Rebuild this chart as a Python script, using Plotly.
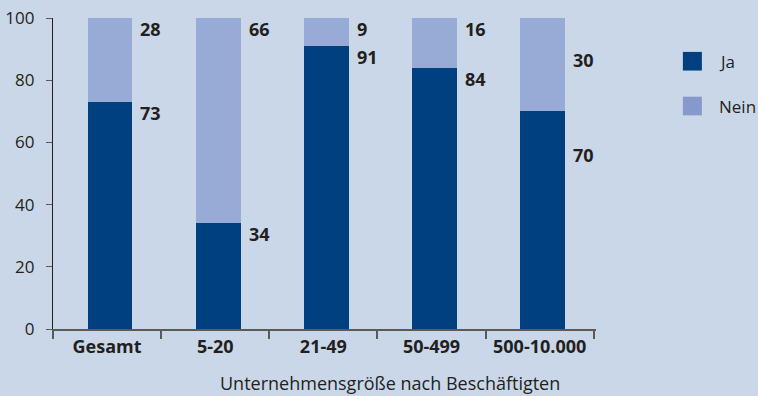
import plotly.graph_objects as go

# Unternehmensgröße nach Beschäftigten
categories = ["Gesamt", "5-20", "21-49", "50-499", "500-10.000"]
ja_values = [73, 34, 91, 84, 70]
nein_values = [28, 66, 9, 16, 30]
y_ticks = [0, 20, 40, 60, 80, 100]

BG = "#cad7e8"
JA_COLOR = "#003f80"
NEIN_COLOR = "#98aad6"
TEXT = "#231f20"
FONT = "Open Sans"

fig = go.Figure()
fig.add_trace(go.Bar(x=categories, y=ja_values, name="Ja", marker_color=JA_COLOR,
                     marker_line_width=0, width=0.415, offset=-0.18))
fig.add_trace(go.Bar(x=categories, y=nein_values, name="Nein", marker_color=NEIN_COLOR,
                     marker_line_width=0, width=0.415, offset=-0.18))

# Value labels to the right of each bar
annotations = []
last = len(categories) - 1
for i, (ja, nein) in enumerate(zip(ja_values, nein_values)):
    if i == last:
        nein_y, nein_anchor, nein_shift = ja + (100 - ja) / 2 + 1.5, "middle", 0
        ja_y, ja_anchor, ja_shift = ja - 14, "middle", 0
    else:
        nein_y, nein_anchor, nein_shift = 100, "top", 3
        ja_y, ja_anchor, ja_shift = ja, "top", 3
    for val, yy, anc, sh in ((nein, nein_y, nein_anchor, nein_shift),
                             (ja, ja_y, ja_anchor, ja_shift)):
        annotations.append(dict(
            x=i + 0.29, y=yy, xref="x", yref="y", text=f"<b>{val}</b>",
            showarrow=False, xanchor="left", yanchor=anc, yshift=sh,
            font=dict(family=FONT, size=18, color=TEXT)))

# Axis title
annotations.append(dict(
    x=0.6206, y=-0.175, xref="paper", yref="paper",
    text="Unternehmensgröße nach Beschäftigten", showarrow=False,
    xanchor="center", yanchor="middle",
    font=dict(family=FONT, size=18, color=TEXT)))

# Legend drawn as swatches with labels
shapes = []
for name, color, y0, y1, ty in (("Ja", JA_COLOR, 0.831, 0.891, 0.861),
                                ("Nein", "#8599cc", 0.687, 0.747, 0.717)):
    shapes.append(dict(type="rect", xref="paper", yref="paper",
                       x0=1.160, x1=1.195, y0=y0, y1=y1,
                       fillcolor=color, line_width=0))
    annotations.append(dict(x=1.222, y=ty, xref="paper", yref="paper", text=name,
                            showarrow=False, xanchor="left", yanchor="middle",
                            font=dict(family=FONT, size=17, color=TEXT)))

fig.update_layout(
    barmode="stack",
    width=758, height=396,
    margin=dict(l=53, r=162, t=18, b=67, pad=0, autoexpand=False),
    paper_bgcolor=BG, plot_bgcolor=BG,
    showlegend=False,
    annotations=annotations,
    shapes=shapes,
    font=dict(family=FONT, color=TEXT),
)
fig.update_xaxes(
    type="category", tickson="boundaries", automargin=False,
    ticks="outside", ticklen=8, tickwidth=1.5, tickcolor="#5a5a5a",
    showline=True, linecolor="#5a5a5a", linewidth=1.5,
    showgrid=False, zeroline=False,
    tickfont=dict(family=FONT, size=18, color=TEXT, weight="bold"),
    ticklabelstandoff=1,
)
fig.update_yaxes(
    range=[0, 100], tickvals=y_ticks, automargin=False,
    ticks="outside", ticklen=6, tickwidth=1.2, tickcolor="#5a5a5a",
    showline=True, linecolor=TEXT, linewidth=1.3,
    showgrid=False, zeroline=False,
    tickfont=dict(family=FONT, size=17, color=TEXT),
    ticklabelstandoff=8,
)

fig.write_html("out.html")
